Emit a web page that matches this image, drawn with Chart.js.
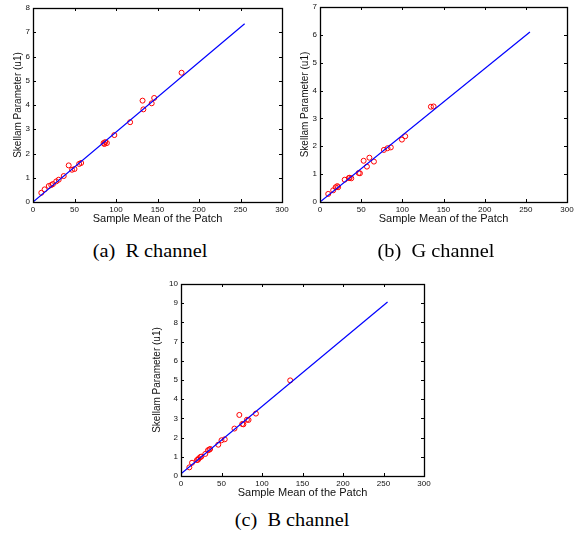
<!DOCTYPE html>
<html>
<head>
<meta charset="utf-8">
<script src="https://cdn.jsdelivr.net/npm/chart.js@4"></script>
<style>
  html, body { margin: 0; padding: 0; background: #fff; }
  body { width: 584px; height: 544px; position: relative; overflow: hidden; }
  .box { position: absolute; }
  .cap { position: absolute; font-family: "Liberation Serif", "Times New Roman", serif; font-size: 18.5px; color: #000; white-space: pre; transform: translateX(-50%) scaleX(1.1); }
</style>
</head>
<body>
<div class="box" id="b1"><canvas id="c1"></canvas></div>
<div class="box" id="b2"><canvas id="c2"></canvas></div>
<div class="box" id="b3"><canvas id="c3"></canvas></div>
<div class="cap" style="left:150px; top:241px;">(a)  R channel</div>
<div class="cap" style="left:436px; top:241px;">(b)  G channel</div>
<div class="cap" style="left:292px; top:510px;">(c)  B channel</div>
<script>
// ---------- DATA ----------
const xTicks = [0, 50, 100, 150, 200, 250, 300];

// (a) R channel
const rMean   = [10, 14, 19, 22, 24, 28, 31, 37, 43, 47, 50, 55.6, 58, 85, 86, 87, 89, 98, 117, 132, 133, 143, 146, 179];
const rSkell  = [0.38, 0.52, 0.66, 0.70, 0.74, 0.85, 0.92, 1.07, 1.51, 1.33, 1.36, 1.57, 1.61, 2.43, 2.39, 2.47, 2.43, 2.76, 3.29, 4.18, 3.82, 4.07, 4.29, 5.33];
const rFitX   = [0, 255];
const rFitY   = [0, 7.35];
const rYMax   = 8;

// (b) G channel
const gMean   = [10, 16, 19, 21, 22, 30, 35, 36, 38, 47, 48.5, 53, 57, 60, 65.5, 77.6, 82, 86, 99.5, 103.5, 134.7, 138];
const gSkell  = [0.29, 0.42, 0.53, 0.57, 0.53, 0.80, 0.86, 0.87, 0.85, 1.04, 1.03, 1.48, 1.27, 1.59, 1.45, 1.87, 1.93, 1.96, 2.24, 2.36, 3.42, 3.43];
const gFitX   = [0, 255];
const gFitY   = [0, 6.10];
const gYMax   = 7;

// (c) B channel
const bMean   = [10.3, 13.6, 19.7, 21, 22, 24, 25, 30, 33.3, 35, 36, 46, 50, 54, 66, 72, 75.6, 77, 81.4, 83.4, 92.5, 134.8];
const bSkell  = [0.45, 0.69, 0.83, 0.85, 0.92, 0.99, 1.01, 1.15, 1.34, 1.37, 1.41, 1.63, 1.86, 1.91, 2.47, 3.18, 2.71, 2.69, 2.93, 2.92, 3.25, 4.98];
const bFitX   = [0, 255];
const bFitY   = [0.12, 9.06];
const bYMax   = 10;

const xTitle = 'Sample Mean of the Patch';
const yTitle = 'Skellam Parameter (u1)';

// ---------- RENDER ----------
const tickPlugin = {
  id: 'matlabBox',
  afterDatasetsDraw(chart) {
    const {ctx, chartArea: a, scales: {x, y}} = chart;
    ctx.save();
    ctx.strokeStyle = '#000';
    ctx.lineWidth = 1;
    const L = 3;
    ctx.beginPath();
    x.ticks.forEach(t => {
      const px = Math.round(x.getPixelForValue(t.value)) + 0.5;
      ctx.moveTo(px, a.bottom); ctx.lineTo(px, a.bottom - L);
      ctx.moveTo(px, a.top); ctx.lineTo(px, a.top + L);
    });
    y.ticks.forEach(t => {
      const py = Math.round(y.getPixelForValue(t.value)) + 0.5;
      ctx.moveTo(a.left, py); ctx.lineTo(a.left + L, py);
      ctx.moveTo(a.right, py); ctx.lineTo(a.right - L, py);
    });
    ctx.stroke();
    ctx.lineWidth = 1.3;
    ctx.strokeRect(Math.round(a.left) + 0.5, Math.round(a.top) + 0.5, Math.round(a.right - a.left), Math.round(a.bottom - a.top));
    ctx.restore();
  }
};

function makeChart(id, boxId, plot, xs, ys, fx, fy, yMax, yTitlePad) {
  const yW = 33, xH = 28, padT = 8, padR = 10;
  const box = document.getElementById(boxId);
  const left = plot.L - yW, top = plot.T - padT;
  const w = (plot.R - plot.L) + yW + padR;
  const h = (plot.B - plot.T) + padT + xH;
  Object.assign(box.style, {left: left + 'px', top: top + 'px', width: w + 'px', height: h + 'px'});
  const pts = xs.map((v, i) => ({x: v, y: ys[i]}));
  const fit = fx.map((v, i) => ({x: v, y: fy[i]}));
  const yt = [];
  for (let i = 0; i <= yMax; i++) yt.push(i);
  new Chart(document.getElementById(id), {
    type: 'scatter',
    data: {
      datasets: [
        {data: fit, showLine: true, borderColor: '#0000ff', borderWidth: 1.2, pointRadius: 0, fill: false},
        {data: pts, showLine: false, borderColor: '#ff0000', backgroundColor: 'rgba(0,0,0,0)', borderWidth: 1, pointRadius: 2.5, pointStyle: 'circle'}
      ]
    },
    options: {
      responsive: true, maintainAspectRatio: false, animation: false,
      layout: {padding: {top: padT, right: padR, left: 0, bottom: 0}},
      plugins: {legend: {display: false}, tooltip: {enabled: false}},
      scales: {
        x: {
          type: 'linear', min: 0, max: 300,
          afterBuildTicks: s => { s.ticks = xTicks.map(v => ({value: v})); },
          afterFit: s => { s.height = xH; },
          grid: {display: false, drawTicks: false}, border: {display: false},
          ticks: {padding: 3, color: '#111', font: {family: 'Liberation Sans, Arial', size: 8}, maxRotation: 0},
          title: {display: true, text: xTitle, color: '#111', padding: 4.4, font: {family: 'Liberation Sans, Arial', size: 11}}
        },
        y: {
          type: 'linear', min: 0, max: yMax,
          afterBuildTicks: s => { s.ticks = yt.map(v => ({value: v})); },
          afterFit: s => { s.width = yW; },
          grid: {display: false, drawTicks: false}, border: {display: false},
          ticks: {padding: 3, color: '#111', font: {family: 'Liberation Sans, Arial', size: 8}},
          title: {display: true, text: yTitle, color: '#111', padding: yTitlePad, font: {family: 'Liberation Sans, Arial', size: 10}}
        }
      }
    },
    plugins: [tickPlugin]
  });
}

makeChart('c1', 'b1', {L: 33, R: 282, T: 8, B: 202}, rMean, rSkell, rFitX, rFitY, rYMax, 12);
makeChart('c2', 'b2', {L: 320, R: 567, T: 7, B: 202}, gMean, gSkell, gFitX, gFitY, gYMax, 12);
makeChart('c3', 'b3', {L: 181, R: 424, T: 284, B: 476}, bMean, bSkell, bFitX, bFitY, bYMax, 3);
</script>
</body>
</html>
